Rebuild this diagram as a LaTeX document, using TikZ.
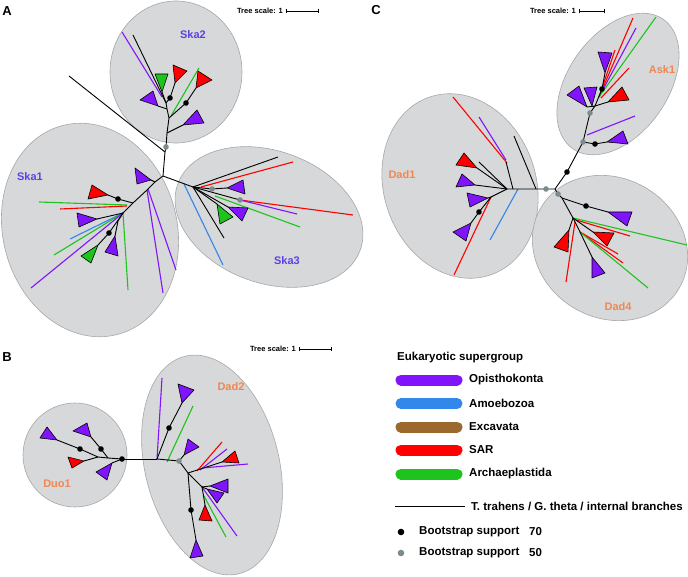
\documentclass[tikz,border=0pt]{standalone}
\usepackage{fontspec}
\setmainfont{Liberation Sans}

\definecolor{opis}{RGB}{128,20,250}
\definecolor{amoe}{RGB}{50,135,235}
\definecolor{exca}{RGB}{155,105,45}
\definecolor{sar}{RGB}{255,0,0}
\definecolor{arch}{RGB}{30,195,30}
\definecolor{bsgray}{RGB}{125,138,142}
\definecolor{cladefill}{RGB}{214,216,217}
\definecolor{cladeedge}{RGB}{165,167,168}
\definecolor{skacol}{RGB}{95,65,225}
\definecolor{dadcol}{RGB}{240,135,85}

\tikzset{
  panel/.style={font=\bfseries\fontsize{13}{15}\selectfont, inner sep=0pt},
  scaletxt/.style={font=\bfseries\fontsize{7.5}{9}\selectfont, inner sep=1pt, anchor=east},
  cladelab/.style={font=\bfseries\fontsize{11}{13}\selectfont, inner sep=0pt},
  legtxt/.style={font=\bfseries\fontsize{11.5}{14}\selectfont, anchor=west, inner sep=0pt},
  grp/.style={fill=cladefill, draw=cladeedge, line width=0.6pt},
  br/.style={line width=0.9pt},
  lf/.style={line width=1.1pt},
  tri/.style={draw=black, line width=0.6pt},
  legbar/.style={line width=11pt, line cap=round},
  scalebar/.style={line width=0.8pt},
}
% collapsed clade: colour, apex, two base corners
\newcommand{\collapsed}[4]{\filldraw[tri, fill=#1] #2 -- #3 -- #4 -- cycle;}
% bootstrap dot
\newcommand{\bsdot}[2]{\fill[#1] #2 circle (2.8);}

\begin{document}
\begin{tikzpicture}[x=1pt, y=-1pt, line join=round]
  \useasboundingbox (0,0) rectangle (688,577);

  % --- 1. panel letters, tree scales ---
  \node[panel] (labA) at (7,11) {A};
  \node[panel] (labB) at (7,357) {B};
  \node[panel] (labC) at (376,10) {C};

  \node[scaletxt] (scA) at (284,11) {Tree scale: 1};
  \draw[scalebar] (286,11) -- (318,11);
  \draw[scalebar] (286,9) -- (286,13) (318,9) -- (318,13);
  \node[scaletxt] (scB) at (297,349) {Tree scale: 1};
  \draw[scalebar] (299,349) -- (331,349);
  \draw[scalebar] (299,347) -- (299,351) (331,347) -- (331,351);
  \node[scaletxt] (scC) at (577,11) {Tree scale: 1};
  \draw[scalebar] (579,11) -- (604,11);
  \draw[scalebar] (579,9) -- (579,13) (604,9) -- (604,13);

  % --- 2. clade ellipses ---
  \draw[grp, rotate around={15:(90,230)}] (90,230) ellipse [x radius=87, y radius=108];
  \draw[grp] (176,72) ellipse [x radius=66, y radius=71];
  \draw[grp, rotate around={-20:(269,217)}] (269,217) ellipse [x radius=97, y radius=66];
  \draw[grp, rotate around={19:(460,186)}] (460,186) ellipse [x radius=76, y radius=94];
  \draw[grp, rotate around={-35:(618,84)}] (618,84) ellipse [x radius=50, y radius=79];
  \draw[grp, rotate around={-30:(610,248)}] (610,248) ellipse [x radius=80, y radius=70];
  \draw[grp] (75,455) circle (52);
  \draw[grp, rotate around={14:(212,465)}] (212,465) ellipse [x radius=67, y radius=112];

  \node[cladelab, skacol] (ska1) at (30,177) {Ska1};
  \node[cladelab, skacol] (ska2) at (193,35) {Ska2};
  \node[cladelab, skacol] (ska3) at (287,261) {Ska3};
  \node[cladelab, dadcol] (dad1) at (402,175) {Dad1};
  \node[cladelab, dadcol] (ask1) at (662,70) {Ask1};
  \node[cladelab, dadcol] (dad4) at (618,307) {Dad4};
  \node[cladelab, dadcol] (duo1) at (57,484) {Duo1};
  \node[cladelab, dadcol] (dad2) at (231,387) {Dad2};

  % --- 3. tree A ---
  \coordinate (rA) at (163,176);
  \coordinate (a1) at (165,152);
  \coordinate (gA) at (166,147);
  % Ska2
  \coordinate (k2a) at (167,133);
  \coordinate (k2b) at (169,118);
  \coordinate (k2c) at (167,109);
  \coordinate (k2d) at (166,103);
  \draw[lf, opis] (162,97) -- (122,32);
  \draw[lf, arch] (171,116) -- (199,68);
  \draw[br] (rA) -- (a1) -- (gA) -- (k2a) -- (k2b) -- (k2c) -- (k2d);
  \draw[br] (a1) -- (69,76);
  \draw[br] (k2d) -- (133,35);
  \draw[br] (k2a) -- (183,125);
  \draw[br] (k2b) -- (186,103) -- (196,88);
  \draw[br] (k2c) -- (158,106);
  \draw[br] (k2d) -- (162,92);
  \draw[br] (k2d) -- (170,98) -- (175,83);
  \collapsed{opis}{(183,125)}{(197,110)}{(204,123)}
  \collapsed{sar}{(196,88)}{(198,71)}{(212,80)}
  \collapsed{opis}{(158,106)}{(140,100)}{(153,91)}
  \collapsed{arch}{(162,92)}{(155,74)}{(168,74)}
  \collapsed{sar}{(175,83)}{(173,65)}{(187,71)}
  \bsdot{black}{(186,103)}
  \bsdot{black}{(170,98)}
  \bsdot{bsgray}{(gA)}

  % Ska1
  \coordinate (k1a) at (155,182);
  \coordinate (k1b) at (147,190);
  \coordinate (k1c) at (133,203);
  \coordinate (k1d) at (123,213);
  \coordinate (k1e) at (118,221);
  \draw[lf, opis] (k1b) -- (163,293);
  \draw[lf, opis] (148,189) -- (176,270);
  \draw[lf, arch] (127,205) -- (39,202);
  \draw[lf, sar] (127,206) -- (60,209);
  \draw[lf, amoe] (k1d) -- (70,239);
  \draw[lf, arch] (k1d) -- (54,255);
  \draw[lf, opis] (k1d) -- (31,288);
  \draw[lf, arch] (k1d) -- (128,290);
  \draw[br] (rA) -- (k1a) -- (k1b) -- (k1c) -- (k1d) -- (k1e) -- (115,236);
  \draw[br] (k1a) -- (151,180);
  \draw[br] (k1c) -- (118,199) -- (108,195);
  \draw[br] (k1d) -- (97,219);
  \draw[br] (k1d) -- (109,233) -- (98,245);
  \collapsed{opis}{(151,180)}{(135,168)}{(137,184)}
  \collapsed{sar}{(108,195)}{(88,199)}{(92,185)}
  \collapsed{opis}{(97,219)}{(77,213)}{(79,227)}
  \collapsed{arch}{(98,245)}{(81,256)}{(91,263)}
  \collapsed{opis}{(115,236)}{(105,252)}{(118,256)}
  \bsdot{black}{(118,199)}
  \bsdot{black}{(109,233)}

  % Ska3
  \coordinate (j3) at (193,187);
  \coordinate (g3a) at (212,189);
  \coordinate (g3b) at (240,200);
  \draw[lf, amoe] (184,184) -- (223,265);
  \draw[lf, sar] (201,187) -- (293,162);
  \draw[lf, sar] (g3b) -- (353,215);
  \draw[lf, opis] (g3b) -- (297,214);
  \draw[lf, arch] (215,196) -- (300,227);
  \draw[br] (rA) -- (j3);
  \draw[br] (j3) -- (278,157);
  \draw[br] (j3) -- (g3a) -- (227,188);
  \draw[br] (j3) -- (g3b);
  \draw[br] (j3) -- (224,238);
  \draw[br] (j3) -- (228,207);
  \draw[br] (j3) -- (217,204);
  \collapsed{opis}{(227,188)}{(243,180)}{(245,194)}
  \collapsed{opis}{(228,207)}{(248,208)}{(242,221)}
  \collapsed{arch}{(217,204)}{(220,224)}{(233,217)}
  \bsdot{bsgray}{(g3a)}
  \bsdot{bsgray}{(g3b)}

  % --- 4. tree C ---
  \coordinate (rC) at (555,189);
  \coordinate (gC1) at (546,189);
  \coordinate (d1) at (523,189);
  \coordinate (d1a) at (507,189);
  \coordinate (d1b) at (491,197);
  % Dad1
  \draw[lf, sar] (453,97) -- (507,163);
  \draw[lf, opis] (479,117) -- (506,160);
  \draw[lf, amoe] (518,189) -- (490,240);
  \draw[lf, sar] (d1b) -- (454,275);
  \draw[br] (rC) -- (gC1) -- (d1) -- (d1a) -- (d1b);
  \draw[br] (536,189) -- (514,136);
  \draw[br] (506,162) -- (513,189);
  \draw[br] (d1a) -- (479,162);
  \draw[br] (d1a) -- (477,168);
  \draw[br] (d1a) -- (475,185);
  \draw[br] (d1b) -- (488,198);
  \draw[br] (d1b) -- (479,212) -- (471,223);
  \collapsed{sar}{(477,168)}{(456,165)}{(464,153)}
  \collapsed{opis}{(475,185)}{(456,187)}{(462,174)}
  \collapsed{opis}{(488,198)}{(467,193)}{(470,207)}
  \collapsed{opis}{(471,223)}{(453,232)}{(466,241)}
  \bsdot{black}{(479,212)}

  % Ask1
  \coordinate (c1) at (567,172);
  \coordinate (gC2) at (583,142);
  \coordinate (gC3) at (590,113);
  \coordinate (e1) at (595,106);
  \coordinate (e2) at (599,97);
  \draw[lf, opis] (587,135) -- (635,116);
  \draw[lf, sar] (e2) -- (615,50);
  \draw[lf, sar] (e2) -- (633,18);
  \draw[lf, opis] (e2) -- (636,28);
  \draw[lf, arch] (e2) -- (656,17);
  \draw[lf, sar] (601,98) -- (629,68);
  \draw[br] (rC) -- (c1) -- (gC2) -- (gC3) -- (e1) -- (602,89) -- (605,73);
  \draw[br] (gC2) -- (595,144) -- (607,142);
  \draw[br] (e1) -- (587,107);
  \draw[br] (e1) -- (592,106);
  \draw[br] (e1) -- (608,102);
  \collapsed{opis}{(607,142)}{(623,131)}{(628,144)}
  \collapsed{opis}{(587,107)}{(567,95)}{(579,86)}
  \collapsed{opis}{(592,106)}{(584,88)}{(597,87)}
  \collapsed{opis}{(605,73)}{(598,52)}{(612,53)}
  \collapsed{sar}{(608,102)}{(622,87)}{(629,100)}
  \bsdot{black}{(c1)}
  \bsdot{black}{(595,144)}
  \bsdot{black}{(602,89)}
  \bsdot{bsgray}{(gC2)}
  \bsdot{bsgray}{(gC3)}

  % Dad4
  \coordinate (gC4) at (558,194);
  \coordinate (f1) at (562,198);
  \coordinate (f2) at (573,218);
  \coordinate (f3) at (580,232);
  \draw[lf, arch] (f2) -- (687,245);
  \draw[lf, sar] (576,220) -- (630,236);
  \draw[lf, sar] (575,222) -- (566,282);
  \draw[lf, sar] (f3) -- (618,254);
  \draw[lf, sar] (f3) -- (623,263);
  \draw[lf, arch] (f3) -- (648,288);
  \draw[br] (rC) -- (gC4) -- (f1) -- (f2) -- (f3) -- (592,257);
  \draw[br] (f1) -- (586,206) -- (608,212);
  \draw[br] (f2) -- (593,232);
  \draw[br] (f2) -- (569,230);
  \collapsed{opis}{(608,212)}{(632,212)}{(627,226)}
  \collapsed{sar}{(593,232)}{(614,233)}{(607,246)}
  \collapsed{sar}{(569,230)}{(554,247)}{(568,252)}
  \collapsed{opis}{(592,257)}{(592,278)}{(605,273)}
  \bsdot{black}{(586,206)}
  \bsdot{bsgray}{(gC1)}
  \bsdot{bsgray}{(gC4)}

  % --- 5. tree B ---
  \coordinate (jB) at (157,459);
  \coordinate (b0) at (122,459);
  % Duo1
  \coordinate (u1) at (108,458);
  \coordinate (u2) at (98,457);
  \draw[br] (b0) -- (jB);
  \draw[br] (b0) -- (u1) -- (u2) -- (80,449) -- (57,440);
  \draw[br] (u1) -- (101,449) -- (91,437);
  \draw[br] (u2) -- (84,461);
  \draw[br] (b0) -- (112,463);
  \collapsed{opis}{(57,440)}{(40,438)}{(47,427)}
  \collapsed{opis}{(91,437)}{(73,431)}{(87,423)}
  \collapsed{sar}{(84,461)}{(68,457)}{(72,468)}
  \collapsed{opis}{(112,463)}{(96,472)}{(107,480)}
  \bsdot{black}{(b0)}
  \bsdot{black}{(80,449)}
  \bsdot{black}{(101,449)}

  % Dad2
  \coordinate (gB) at (179,461);
  \coordinate (h2) at (188,473);
  \coordinate (h3) at (202,487);
  \draw[lf, opis] (jB) -- (162,378);
  \draw[lf, arch] (167,462) -- (193,406);
  \draw[lf, sar] (197,471) -- (222,442);
  \draw[lf, opis] (200,470) -- (227,449);
  \draw[lf, opis] (202,468) -- (248,464);
  \draw[lf, opis] (h3) -- (237,536);
  \draw[lf, arch] (204,496) -- (226,537);
  \draw[br] (jB) -- (169,428) -- (182,403);
  \draw[br] (jB) -- (gB) -- (h2) -- (191,510) -- (196,540);
  \draw[br] (gB) -- (184,455);
  \draw[br] (h2) -- (222,462);
  \draw[br] (h2) -- (h3) -- (210,486);
  \draw[br] (h3) -- (207,489);
  \draw[br] (h3) -- (205,505);
  \collapsed{opis}{(182,403)}{(178,384)}{(194,390)}
  \collapsed{opis}{(184,455)}{(188,439)}{(199,447)}
  \collapsed{sar}{(222,462)}{(235,451)}{(239,463)}
  \collapsed{opis}{(196,540)}{(190,558)}{(203,556)}
  \collapsed{opis}{(210,486)}{(228,479)}{(228,493)}
  \collapsed{opis}{(207,489)}{(224,493)}{(217,503)}
  \collapsed{sar}{(205,505)}{(199,520)}{(212,521)}
  \bsdot{black}{(169,428)}
  \bsdot{black}{(191,510)}
  \bsdot{bsgray}{(gB)}

  % --- 6. legend ---
  \node[legtxt] (legT) at (397,358) {Eukaryotic supergroup};
  \draw[legbar, opis] (401,380) -- (457,380);
  \node[legtxt] (legO) at (469,380) {Opisthokonta};
  \draw[legbar, amoe] (401,403.5) -- (457,403.5);
  \node[legtxt] (legA) at (469,403.5) {Amoebozoa};
  \draw[legbar, exca] (401,427) -- (457,427);
  \node[legtxt] (legE) at (469,427) {Excavata};
  \draw[legbar, sar] (401,450) -- (457,450);
  \node[legtxt] (legS) at (469,450) {SAR};
  \draw[legbar, arch] (401,474) -- (457,474);
  \node[legtxt] (legP) at (469,474) {Archaeplastida};
  \draw[line width=1pt] (395,506) -- (465,506);
  \node[legtxt] (legL) at (471,506) {T. trahens / G. theta / internal branches};
  \fill[black] (401,532) circle (3.3);
  \node[legtxt] (legB1) at (419,532) {Bootstrap support};
  \node[legtxt] (legB1v) at (529,532) {70};
  \fill[bsgray] (401,553) circle (3.3);
  \node[legtxt] (legB2) at (419,553) {Bootstrap support};
  \node[legtxt] (legB2v) at (529,553) {50};

\end{tikzpicture}
\end{document}
